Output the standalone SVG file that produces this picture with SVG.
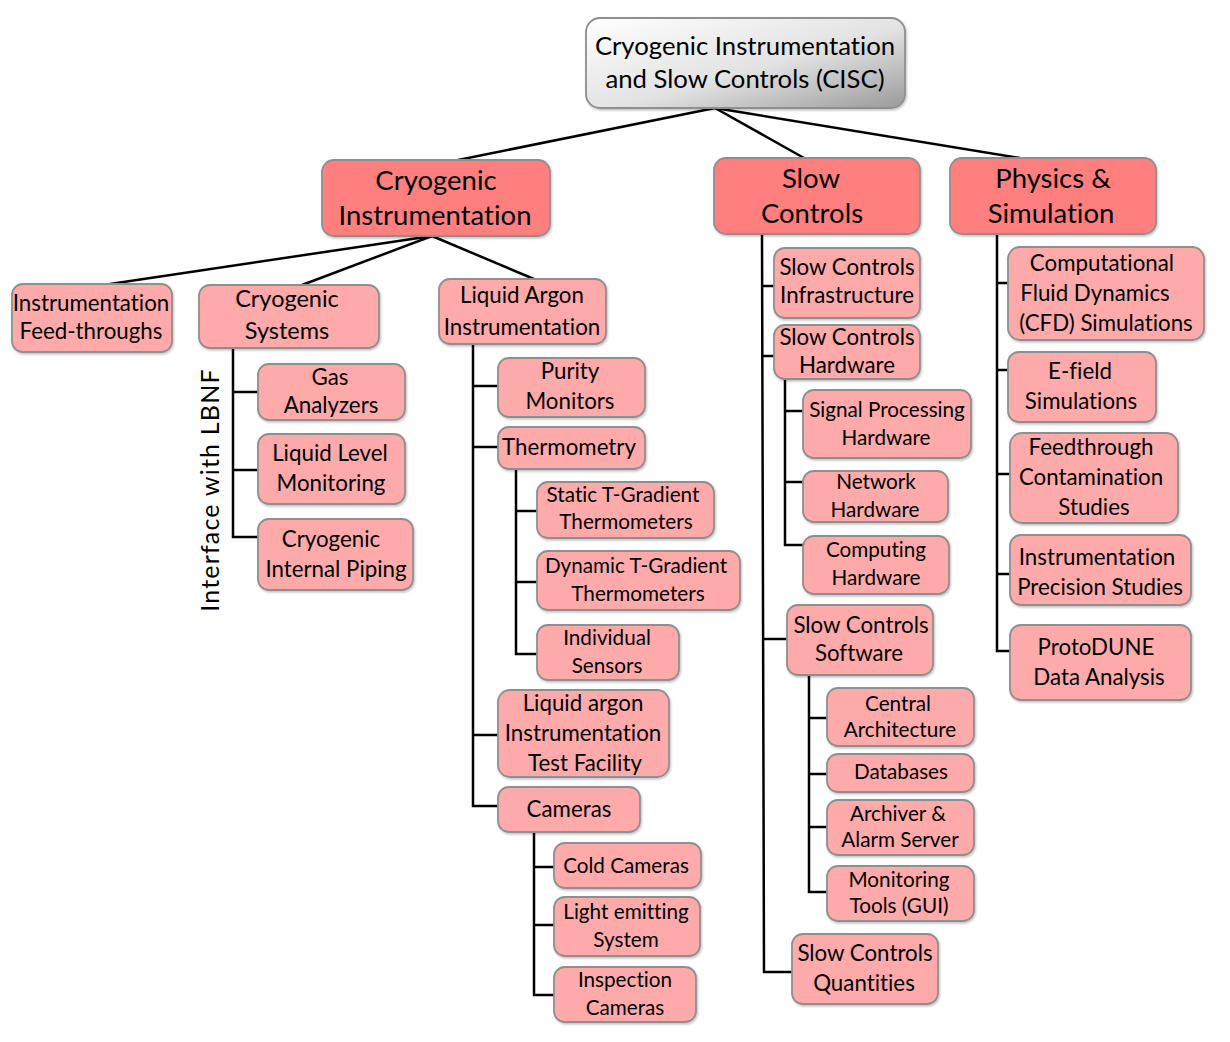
<svg xmlns="http://www.w3.org/2000/svg" width="1230" height="1042" viewBox="0 0 1230 1042">
<defs>
<linearGradient id="rootGrad" x1="0" y1="0" x2="1" y2="1">
<stop offset="0" stop-color="#ffffff"/>
<stop offset="0.55" stop-color="#e2e2e2"/>
<stop offset="1" stop-color="#9a9a9a"/>
</linearGradient>
<filter id="sh" x="-10%" y="-10%" width="130%" height="130%">
<feDropShadow dx="1" dy="1.5" stdDeviation="1.2" flood-color="#000" flood-opacity="0.25"/>
</filter>
</defs>
<style>
rect{stroke:#8f8f8f;stroke-width:1.8;filter:url(#sh)}
.root{fill:url(#rootGrad)}
.l1{fill:#ff7f7f}
.l2{fill:#ffaaaa}
text{font-family:Lato,"Liberation Sans",sans-serif;fill:#000;text-anchor:middle;font-variant-ligatures:none}
.t0{font-size:25.7px}
.t1{font-size:27.5px}
.t2{font-size:22.3px}
.t3{font-size:20.7px}
.conn line,.conn polyline{stroke:#000;stroke-width:2.5;fill:none}
</style>
<rect width="1230" height="1042" fill="#fff" style="stroke:none;filter:none"/>
<g class="conn" id="connectors">
<line x1="715" y1="108" x2="458" y2="160"/>
<line x1="715" y1="108" x2="804" y2="158"/>
<line x1="715" y1="108" x2="1020" y2="158"/>
<line x1="432" y1="236" x2="110" y2="284"/>
<line x1="432" y1="236" x2="302" y2="285"/>
<line x1="432" y1="236" x2="534" y2="279"/>
<polyline points="233,348 233,537 258,537"/>
<line x1="233" y1="392" x2="258" y2="392"/>
<line x1="233" y1="470" x2="258" y2="470"/>
<polyline points="473,344 473,806 498,806"/>
<line x1="473" y1="386" x2="498" y2="386"/>
<line x1="473" y1="447" x2="498" y2="447"/>
<line x1="473" y1="735" x2="498" y2="735"/>
<polyline points="516,469 516,654 537,654"/>
<line x1="516" y1="511" x2="537" y2="511"/>
<line x1="516" y1="582" x2="537" y2="582"/>
<polyline points="534,832 534,995 554,995"/>
<line x1="534" y1="867" x2="554" y2="867"/>
<line x1="534" y1="925" x2="554" y2="925"/>
<polyline points="762,234 764,972 792,972"/>
<line x1="762" y1="286" x2="774" y2="286"/>
<line x1="763" y1="356" x2="774" y2="356"/>
<line x1="763" y1="639" x2="787" y2="639"/>
<polyline points="785,379 785,545 803,545"/>
<line x1="785" y1="411" x2="803" y2="411"/>
<line x1="785" y1="482" x2="803" y2="482"/>
<polyline points="809,675 809,892 827,892"/>
<line x1="809" y1="718" x2="827" y2="718"/>
<line x1="809" y1="774" x2="827" y2="774"/>
<line x1="809" y1="827" x2="827" y2="827"/>
<polyline points="997,234 997,651 1010,651"/>
<line x1="997" y1="283" x2="1008" y2="283"/>
<line x1="997" y1="370" x2="1008" y2="370"/>
<line x1="997" y1="474" x2="1010" y2="474"/>
<line x1="997" y1="574" x2="1010" y2="574"/>
</g>
<g id="root"><rect class="root" x="586" y="18" width="319" height="90" rx="14"/><text class="t0" x="745" y="55">Cryogenic Instrumentation</text><text class="t0" x="745" y="88">and Slow Controls (CISC)</text></g>
<g id="cryo-instr"><rect class="l1" x="322" y="160" width="228" height="76" rx="12"/><text class="t1" x="436" y="190">Cryogenic</text><text class="t1" x="435" y="225">Instrumentation</text></g>
<g id="slow-controls"><rect class="l1" x="714" y="158" width="206" height="76" rx="12"/><text class="t1" x="811" y="188">Slow</text><text class="t1" x="812" y="223">Controls</text></g>
<g id="physics"><rect class="l1" x="950" y="158" width="206" height="76" rx="12"/><text class="t1" x="1053" y="188">Physics &amp;</text><text class="t1" x="1051" y="223">Simulation</text></g>
<g id="feedthroughs"><rect class="l2" x="12" y="284" width="160" height="68" rx="11"/><text class="t2" x="91" y="311">Instrumentation</text><text class="t2" x="91" y="339">Feed-throughs</text></g>
<g id="cryo-systems"><rect class="l2" x="199" y="285" width="180" height="63" rx="11"/><text class="t2" x="287" y="307" style="font-size:23.5px">Cryogenic</text><text class="t2" x="287" y="339" style="font-size:23.5px">Systems</text></g>
<g id="lar-instr"><rect class="l2" x="439" y="279" width="167" height="65" rx="11"/><text class="t2" x="522" y="303">Liquid Argon</text><text class="t2" x="522" y="335">Instrumentation</text></g>
<text class="t2" transform="translate(219,490) rotate(-90)" style="font-size:25px;letter-spacing:1.2px">Interface with LBNF</text>
<g id="gas"><rect class="l2" x="258" y="364" width="147" height="56" rx="11"/><text class="t2" x="330" y="385">Gas</text><text class="t2" x="331" y="413">Analyzers</text></g>
<g id="level"><rect class="l2" x="258" y="434" width="147" height="70" rx="11"/><text class="t2" x="330" y="461">Liquid Level</text><text class="t2" x="331" y="491">Monitoring</text></g>
<g id="piping"><rect class="l2" x="258" y="519" width="155" height="71" rx="11"/><text class="t2" x="331" y="547">Cryogenic</text><text class="t2" x="336" y="577">Internal Piping</text></g>
<g id="purity"><rect class="l2" x="498" y="358" width="147" height="59" rx="11"/><text class="t2" x="570" y="379">Purity</text><text class="t2" x="570" y="409">Monitors</text></g>
<g id="thermometry"><rect class="l2" x="498" y="427" width="147" height="42" rx="11"/><text class="t2" x="569" y="455">Thermometry</text></g>
<g id="static"><rect class="l2" x="537" y="482" width="177" height="56" rx="11"/><text class="t3" x="623" y="502">Static T-Gradient</text><text class="t3" x="626" y="529">Thermometers</text></g>
<g id="dynamic"><rect class="l2" x="537" y="551" width="203" height="59" rx="11"/><text class="t3" x="636" y="573">Dynamic T-Gradient</text><text class="t3" x="638" y="601">Thermometers</text></g>
<g id="individual"><rect class="l2" x="537" y="625" width="142" height="55" rx="11"/><text class="t3" x="607" y="645">Individual</text><text class="t3" x="607" y="673">Sensors</text></g>
<g id="test-facility"><rect class="l2" x="498" y="690" width="171" height="87" rx="12"/><text class="t2" x="583" y="711">Liquid argon</text><text class="t2" x="583" y="741">Instrumentation</text><text class="t2" x="585" y="771">Test Facility</text></g>
<g id="cameras"><rect class="l2" x="498" y="787" width="142" height="45" rx="11"/><text class="t2" x="569" y="817">Cameras</text></g>
<g id="cold"><rect class="l2" x="554" y="843" width="147" height="45" rx="11"/><text class="t3" x="626" y="873">Cold Cameras</text></g>
<g id="light"><rect class="l2" x="554" y="897" width="146" height="59" rx="11"/><text class="t3" x="626" y="919">Light emitting</text><text class="t3" x="626" y="947">System</text></g>
<g id="inspection"><rect class="l2" x="554" y="967" width="142" height="55" rx="11"/><text class="t3" x="625" y="987">Inspection</text><text class="t3" x="625" y="1015">Cameras</text></g>
<g id="sc-infra"><rect class="l2" x="774" y="248" width="146" height="70" rx="11"/><text class="t2" x="847" y="275">Slow Controls</text><text class="t2" x="847" y="303">Infrastructure</text></g>
<g id="sc-hw"><rect class="l2" x="774" y="325" width="146" height="54" rx="11"/><text class="t2" x="847" y="345">Slow Controls</text><text class="t2" x="847" y="373">Hardware</text></g>
<g id="signal"><rect class="l2" x="803" y="390" width="168" height="68" rx="11"/><text class="t3" x="887" y="417">Signal Processing</text><text class="t3" x="886" y="445">Hardware</text></g>
<g id="network"><rect class="l2" x="803" y="471" width="145" height="51" rx="11"/><text class="t3" x="876" y="489">Network</text><text class="t3" x="875" y="517">Hardware</text></g>
<g id="computing"><rect class="l2" x="803" y="536" width="146" height="58" rx="11"/><text class="t3" x="876" y="557">Computing</text><text class="t3" x="876" y="585">Hardware</text></g>
<g id="sc-sw"><rect class="l2" x="787" y="605" width="146" height="70" rx="11"/><text class="t2" x="861" y="633">Slow Controls</text><text class="t2" x="859" y="661">Software</text></g>
<g id="central"><rect class="l2" x="827" y="688" width="147" height="58" rx="11"/><text class="t3" x="898" y="711">Central</text><text class="t3" x="900" y="737">Architecture</text></g>
<g id="databases"><rect class="l2" x="827" y="754" width="147" height="38" rx="11"/><text class="t3" x="901" y="779">Databases</text></g>
<g id="archiver"><rect class="l2" x="827" y="800" width="147" height="55" rx="11"/><text class="t3" x="898" y="821">Archiver &amp;</text><text class="t3" x="900" y="847">Alarm Server</text></g>
<g id="monitoring"><rect class="l2" x="827" y="866" width="147" height="55" rx="11"/><text class="t3" x="899" y="887">Monitoring</text><text class="t3" x="899" y="913">Tools (GUI)</text></g>
<g id="sc-quant"><rect class="l2" x="792" y="934" width="146" height="70" rx="11"/><text class="t2" x="865" y="961">Slow Controls</text><text class="t2" x="864" y="991">Quantities</text></g>
<g id="cfd"><rect class="l2" x="1008" y="247" width="196" height="93" rx="12"/><text class="t2" x="1102" y="271">Computational</text><text class="t2" x="1095" y="301">Fluid Dynamics</text><text class="t2" x="1106" y="331">(CFD) Simulations</text></g>
<g id="efield"><rect class="l2" x="1008" y="352" width="148" height="70" rx="11"/><text class="t2" x="1080" y="379">E-field</text><text class="t2" x="1081" y="409">Simulations</text></g>
<g id="feedthrough-cont"><rect class="l2" x="1010" y="433" width="168" height="90" rx="12"/><text class="t2" x="1091" y="455">Feedthrough</text><text class="t2" x="1091" y="485">Contamination</text><text class="t2" x="1094" y="515">Studies</text></g>
<g id="precision"><rect class="l2" x="1010" y="535" width="181" height="70" rx="11"/><text class="t2" x="1097" y="565">Instrumentation</text><text class="t2" x="1100" y="595">Precision Studies</text></g>
<g id="protodune"><rect class="l2" x="1010" y="625" width="181" height="75" rx="11"/><text class="t2" x="1096" y="655">ProtoDUNE</text><text class="t2" x="1099" y="685">Data Analysis</text></g>
</svg>
